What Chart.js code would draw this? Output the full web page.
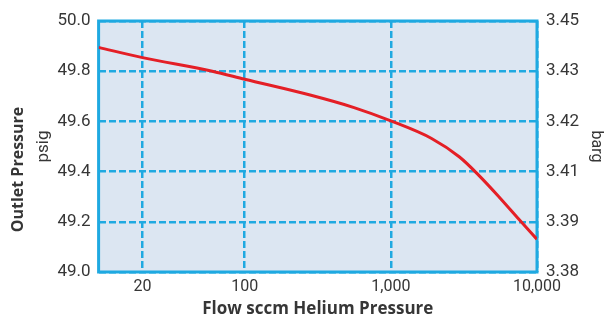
<!DOCTYPE html>
<html>
<head>
<meta charset="utf-8">
<script src="https://cdn.jsdelivr.net/npm/chart.js@4/dist/chart.umd.min.js"></script>
<style>
  html, body { margin: 0; padding: 0; background: #fff; }
  #wrap { width: 604px; height: 318px; }
</style>
</head>
<body>
<div id="wrap"><canvas id="myChart"></canvas></div>
<script>
// flow (sccm) vs outlet pressure (psig)
const flowValues = [10, 20, 60, 100, 280, 560, 1000, 1900, 2950, 4000, 5500, 7600, 9970];
const psigValues = [49.895, 49.854, 49.80, 49.768, 49.705, 49.655, 49.602, 49.532, 49.458, 49.385, 49.299, 49.207, 49.131];

const xTickValues = [20, 100, 1000, 10000];
const xTickLabels = ["20", "100", "1,000", "10,000"];
const psigTicks = [49.0, 49.2, 49.4, 49.6, 49.8, 50.0];
const bargLabels = ["3.38", "3.39", "3.41", "3.42", "3.43", "3.45"];

const blue = "#1fa9e1";
const textColor = "#363636";
const fontFam = "Roboto, 'DejaVu Sans', sans-serif";
const boldFam = "'Open Sans', Roboto, sans-serif";

// plot background + frame
const plotFrame = {
  id: "plotFrame",
  beforeDraw(chart) {
    const { ctx, chartArea: a } = chart;
    ctx.save();
    ctx.fillStyle = "#dce6f2";
    ctx.fillRect(a.left, a.top, a.right - a.left, a.bottom - a.top);
    ctx.restore();
  },
  beforeDatasetsDraw(chart) {
    const { ctx, chartArea: a } = chart;
    ctx.save();
    ctx.strokeStyle = blue;
    ctx.lineWidth = 3;
    ctx.strokeRect(a.left, a.top, a.right - a.left, a.bottom - a.top);
    ctx.restore();
  }
};

const points = flowValues.map((f, i) => ({ x: f, y: psigValues[i] }));

new Chart(document.getElementById("myChart"), {
  type: "line",
  data: {
    datasets: [{
      data: points,
      borderColor: "#e41f26",
      borderWidth: 3,
      pointRadius: 0,
      cubicInterpolationMode: "monotone",
      yAxisID: "y"
    }]
  },
  options: {
    responsive: true,
    maintainAspectRatio: false,
    animation: false,
    layout: { padding: { top: 21, left: 0, right: 0, bottom: 0 } },
    plugins: {
      legend: { display: false },
      tooltip: { enabled: false },
      title: {
        display: true,
        position: "left",
        text: "Outlet Pressure",
        color: textColor,
        font: { family: boldFam, size: 16, weight: "bold", lineHeight: 1.1 },
        padding: { top: 10, bottom: 0 }
      }
    },
    scales: {
      x: {
        type: "logarithmic",
        min: 10,
        max: 10000,
        afterBuildTicks: (s) => { s.ticks = xTickValues.map(v => ({ value: v })); },
        afterFit: (s) => { s.height = 46; },
        ticks: {
          autoSkip: false,
          maxRotation: 0,
          padding: 5,
          color: textColor,
          font: { family: fontFam, size: 16 },
          callback: (v) => xTickLabels[xTickValues.indexOf(v)]
        },
        grid: { color: blue, lineWidth: 2.5, drawTicks: false },
        border: { display: false, dash: [7, 3] },
        title: {
          display: true,
          text: "Flow sccm Helium Pressure",
          color: textColor,
          font: { family: boldFam, size: 17, weight: "bold", lineHeight: 1 },
          padding: { top: 0, bottom: 0 }
        }
      },
      y: {
        position: "left",
        min: 49,
        max: 50,
        afterBuildTicks: (s) => { s.ticks = psigTicks.map(v => ({ value: v })); },
        afterFit: (s) => { s.width = 71; },
        ticks: {
          padding: 8,
          color: textColor,
          font: { family: fontFam, size: 17 },
          callback: (v) => v.toFixed(1)
        },
        grid: { color: blue, lineWidth: 2.5, drawTicks: false },
        border: { display: false, dash: [7, 3] },
        title: {
          display: true,
          text: "psig",
          color: textColor,
          font: { family: fontFam, size: 17, lineHeight: 1.1 },
          padding: { top: 7, bottom: 0 }
        }
      },
      y2: {
        position: "right",
        min: 49,
        max: 50,
        afterBuildTicks: (s) => { s.ticks = psigTicks.map(v => ({ value: v })); },
        afterFit: (s) => { s.width = 67; },
        ticks: {
          padding: 9,
          color: textColor,
          font: { family: fontFam, size: 17 },
          callback: (v, i) => bargLabels[i]
        },
        grid: { display: false, drawTicks: false },
        border: { display: false },
        title: {
          display: true,
          text: "barg",
          color: textColor,
          font: { family: fontFam, size: 16, lineHeight: 1 },
          padding: { top: 0, bottom: 0 }
        }
      }
    }
  },
  plugins: [plotFrame]
});
</script>
</body>
</html>
